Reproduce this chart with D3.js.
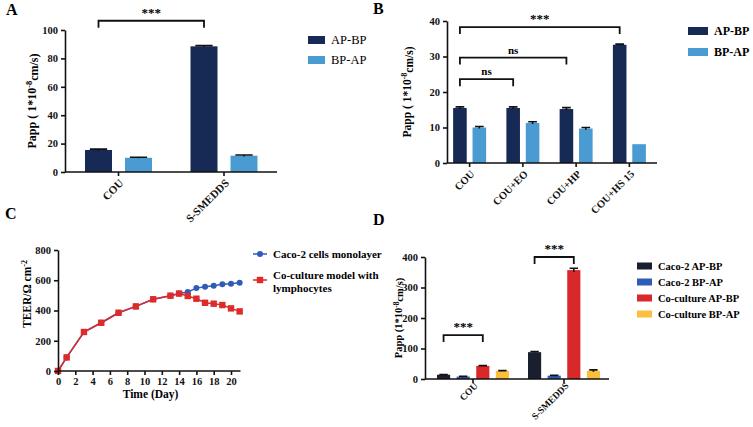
<!DOCTYPE html>
<html>
<head>
<meta charset="utf-8">
<script src="https://cdn.jsdelivr.net/npm/d3@7"></script>
<style>
body { margin: 0; background: #fff; }
text { font-family: "Liberation Serif", "Times New Roman", serif; }
</style>
</head>
<body>
<div class="static-image"></div>
<script>
// ---- data ----
var groupsA = ["COU", "S-SMEDDS"];
var seriesAB = ["AP-BP", "BP-AP"];
var apbpA = [15.5, 88.5];
var bpapA = [10.0, 11.5];
var apbpErrA = [0.6, 0.5];
var bpapErrA = [0.4, 0.5];
var ticksA = [0, 20, 40, 60, 80, 100];

var groupsB = ["COU", "COU+EO", "COU+HP", "COU+HS 15"];
var apbpB = [15.5, 15.5, 15.2, 33.3];
var bpapB = [10.0, 11.3, 9.7, 5.3];
var apbpErrB = [0.3, 0.3, 0.4, 0.2];
var bpapErrB = [0.3, 0.3, 0.3, 0];
var ticksB = [0, 10, 20, 30, 40];

var daysC = [0, 1, 3, 5, 7, 9, 11, 13, 14, 15, 16, 17, 18, 19, 20, 21];
var cacoC = [0, 90, 258, 319, 385, 427, 474, 498, 512, 522, 548, 557, 564, 573, 577, 584];
var coC = [0, 90, 258, 319, 385, 427, 474, 498, 512, 496, 478, 451, 445, 436, 414, 394];
var ticksCx = [0, 2, 4, 6, 8, 10, 12, 14, 16, 18, 20];
var ticksCy = [0, 200, 400, 600, 800];
var seriesC = ["Caco-2 cells monolayer", "Co-culture model with", "lymphocytes"];

var groupsD = ["COU", "S-SMEDDS"];
var seriesD = ["Caco-2 AP-BP", "Caco-2 BP-AP", "Co-culture AP-BP", "Co-culture BP-AP"];
var caco2ApbpD = [14, 88];
var caco2BpapD = [8, 11];
var coApbpD = [43, 357];
var coBpapD = [27, 27];
var caco2ApbpErrD = [1, 2];
var caco2BpapErrD = [0.5, 1];
var coApbpErrD = [1, 6];
var coBpapErrD = [0.5, 3];
var ticksD = [0, 100, 200, 300, 400];

// brackets: [group, series, group, series, label, value]
var bracketsA = [[0, 0, 1, 0, "***", 106.5]];
var bracketsB = [[0, 0, 3, 0, "***", 38.3], [0, 0, 2, 0, "ns", 29.7], [0, 0, 1, 0, "ns", 23.6]];
var bracketsD = [[0, 0, 0, 2, "***", 144], [1, 0, 1, 2, "***", 400]];

var colAB = ["#172a56", "#4b9bd3"];
var colD = ["#1a1f30", "#2f5cb6", "#d8282a", "#fcbf3c"];
var colC = ["#2f5cb6", "#dd2b2b"];

var svg = d3.select(".static-image").append("svg")
    .attr("width", 753).attr("height", 427)
    .style("background", "#fff");

function styleAxis(g) {
    g.selectAll("path,line").attr("stroke", "#111").attr("stroke-width", 1.6);
    g.selectAll("text").attr("fill", "#111").style("font-weight", "bold").style("font-size", "10.5px")
        .style("font-family", "'Liberation Serif', serif");
}

function letter(txt, x, y) {
    svg.append("text").attr("x", x).attr("y", y).text(txt)
        .style("font-weight", "bold").style("font-size", "16px");
}

function yTitle(x, y, pre, sup, post, size) {
    var t = svg.append("text")
        .attr("transform", "translate(" + x + "," + y + ") rotate(-90)")
        .attr("text-anchor", "middle")
        .style("font-weight", "bold").style("font-size", size + "px");
    t.append("tspan").text(pre);
    t.append("tspan").attr("dy", "-0.45em").style("font-size", (size * 0.7) + "px").text(sup);
    t.append("tspan").attr("dy", "0.45em").text(post);
}

function barPanel(p) {
    var x = d3.scaleBand().domain(d3.range(p.groups.length)).range(p.xr);
    var xi = d3.scaleBand().domain(d3.range(p.series.length))
        .range([-p.pair / 2, p.pair / 2]).paddingInner(p.pad);
    var y = d3.scaleLinear().domain([0, p.ymax]).range([p.y0, p.y1]);

    var g = svg.append("g");
    p.values.forEach(function (vals, s) {
        g.selectAll(null).data(vals).enter().append("rect")
            .attr("x", function (d, i) { return x(i) + x.bandwidth() / 2 + xi(s); })
            .attr("y", function (d) { return y(d); })
            .attr("width", xi.bandwidth())
            .attr("height", function (d) { return y(0) - y(d); })
            .attr("fill", p.colors[s]);
        // error bars
        g.selectAll(null).data(vals).enter().append("path")
            .attr("d", function (d, i) {
                var cx = x(i) + x.bandwidth() / 2 + xi(s) + xi.bandwidth() / 2;
                var e = p.errs[s][i];
                var hw = xi.bandwidth() * 0.32;
                if (!e) return null;
                return "M" + cx + "," + y(d - e) + "V" + y(d + e) +
                    "M" + (cx - hw) + "," + y(d + e) + "H" + (cx + hw);
            })
            .attr("stroke", "#111").attr("stroke-width", 1.6).attr("fill", "none");
    });

    var ya = svg.append("g").attr("transform", "translate(" + p.ax + ",0)")
        .call(d3.axisLeft(y).tickValues(p.ticks).tickSize(4).tickSizeOuter(0).tickFormat(d3.format("d")));
    styleAxis(ya);

    var xa = svg.append("g").attr("transform", "translate(0," + p.y0 + ")")
        .call(d3.axisBottom(x).tickSize(4).tickSizeOuter(0)
            .tickFormat(function (i) { return p.groups[i]; }));
    xa.select(".domain").attr("d", "M" + p.ax + ",0H" + p.axEnd);
    styleAxis(xa);
    // category labels at 45 degrees, ending just under the tick
    xa.selectAll(".tick text").attr("x", 0).attr("y", 0).attr("dy", "0.35em")
        .attr("transform", "translate(3," + p.lblDy + ") rotate(-45)")
        .style("text-anchor", "end").style("font-size", p.xfs + "px");

    // significance brackets
    p.brackets.forEach(function (b) {
        var xa0 = x(b[0]) + x.bandwidth() / 2 + xi(b[1]) + xi.bandwidth() / 2;
        var xb0 = x(b[2]) + x.bandwidth() / 2 + xi(b[3]) + xi.bandwidth() / 2;
        var yy = y(b[5]);
        svg.append("path")
            .attr("d", "M" + xa0 + "," + (yy + 7) + "V" + yy + "H" + xb0 + "V" + (yy + 7))
            .attr("stroke", "#111").attr("stroke-width", 1.8).attr("fill", "none");
        svg.append("text").attr("x", (xa0 + xb0) / 2).attr("y", yy - 4)
            .attr("text-anchor", "middle")
            .style("font-weight", "bold").style("font-size", b[4] == "ns" ? "11px" : "13px")
            .text(b[4]);
    });

    // legend
    p.series.forEach(function (s, i) {
        var ly = p.leg[1] + i * p.leg[4];
        svg.append("rect").attr("x", p.leg[0]).attr("y", ly - p.leg[3] / 2)
            .attr("width", p.leg[2]).attr("height", p.leg[3]).attr("fill", p.colors[i]);
        svg.append("text").attr("x", p.leg[0] + p.leg[2] + 6).attr("y", ly).attr("dy", "0.35em")
            .style("font-weight", p.legBold ? "bold" : "normal")
            .style("font-size", p.legFs + "px").text(s);
    });
}

// ---- A ----
letter("A", 6, 15);
barPanel({
    groups: groupsA, series: seriesAB, values: [apbpA, bpapA], errs: [apbpErrA, bpapErrA],
    colors: colAB, xr: [65.75, 276.75], pair: 67, pad: 0.325, ymax: 100, y0: 172, y1: 30,
    ax: 65, axEnd: 277, ticks: ticksA, brackets: bracketsA, xfs: 11, lblDy: 9,
    leg: [308, 40, 17, 8, 20], legBold: false, legFs: 12.5
});
yTitle(36, 101, "Papp ( 1*10", "-8", "cm/s)", 12);

// ---- B ----
letter("B", 373, 14);
barPanel({
    groups: groupsB, series: seriesAB, values: [apbpB, bpapB], errs: [apbpErrB, bpapErrB],
    colors: colAB, xr: [443, 656], pair: 33, pad: 0.3, ymax: 40, y0: 163, y1: 21,
    ax: 447, axEnd: 657, ticks: ticksB, brackets: bracketsB, xfs: 10.5, lblDy: 9,
    leg: [688, 31, 20, 8, 21], legBold: true, legFs: 12
});
yTitle(411, 92, "Papp ( 1*10", "-8", "cm/s)", 11.5);

// ---- D ----
letter("D", 373, 225);
barPanel({
    groups: groupsD, series: seriesD,
    values: [caco2ApbpD, caco2BpapD, coApbpD, coBpapD],
    errs: [caco2ApbpErrD, caco2BpapErrD, coApbpErrD, coBpapErrD],
    colors: colD, xr: [427.5, 609.5], pair: 72, pad: 0.33, ymax: 400, y0: 379, y1: 257,
    ax: 425, axEnd: 609, ticks: ticksD, brackets: bracketsD, xfs: 9.5, lblDy: 5,
    leg: [637, 266, 15, 7, 16], legBold: true, legFs: 10.5
});
yTitle(402, 318, "Papp (1*10", "-8", "cm/s)", 10.5);

// ---- C ----
letter("C", 5, 219);
var xC = d3.scaleLinear().domain([0, 20]).range([58, 231]);
var yC = d3.scaleLinear().domain([0, 800]).range([371, 250]);
var lineC = d3.line().x(function (d, i) { return xC(daysC[i]); }).y(function (d) { return yC(d); });

svg.append("path").datum(cacoC).attr("d", lineC)
    .attr("fill", "none").attr("stroke", colC[0]).attr("stroke-width", 1.5);
svg.selectAll(null).data(cacoC).enter().append("circle")
    .attr("cx", function (d, i) { return xC(daysC[i]); })
    .attr("cy", function (d) { return yC(d); })
    .attr("r", 3).attr("fill", colC[0]);
svg.append("path").datum(coC).attr("d", lineC)
    .attr("fill", "none").attr("stroke", colC[1]).attr("stroke-width", 1.5);
svg.selectAll(null).data(coC).enter().append("rect")
    .attr("x", function (d, i) { return xC(daysC[i]) - 3.2; })
    .attr("y", function (d) { return yC(d) - 3.2; })
    .attr("width", 6.4).attr("height", 6.4).attr("fill", colC[1]);

var yaC = svg.append("g").attr("transform", "translate(58,0)")
    .call(d3.axisLeft(yC).tickValues(ticksCy).tickSize(4).tickSizeOuter(0));
styleAxis(yaC);
var xaC = svg.append("g").attr("transform", "translate(0,371)")
    .call(d3.axisBottom(xC).tickValues(ticksCx).tickSize(4).tickSizeOuter(0));
xaC.select(".domain").attr("d", "M58,0H" + xC(21.1));
styleAxis(xaC);

svg.append("text").attr("x", xC(10.7)).attr("y", 398).attr("text-anchor", "middle")
    .style("font-weight", "bold").style("font-size", "11.5px").text("Time (Day)");
yTitle(31, 294, "TEER/Ω cm", "-2", "", 11.5);

// legend C
[254, 280].forEach(function (ly, i) {
    svg.append("line").attr("x1", 253).attr("x2", 267).attr("y1", ly).attr("y2", ly)
        .attr("stroke", colC[i]).attr("stroke-width", 1.5);
    if (i == 0) {
        svg.append("circle").attr("cx", 260).attr("cy", ly).attr("r", 3).attr("fill", colC[0]);
    } else {
        svg.append("rect").attr("x", 256.8).attr("y", ly - 3.2).attr("width", 6.4).attr("height", 6.4)
            .attr("fill", colC[1]);
    }
});
[254, 275, 288].forEach(function (ly, i) {
    svg.append("text").attr("x", 273).attr("y", ly).attr("dy", "0.35em")
        .style("font-weight", "bold").style("font-size", "11px").text(seriesC[i]);
});
</script>
</body>
</html>
